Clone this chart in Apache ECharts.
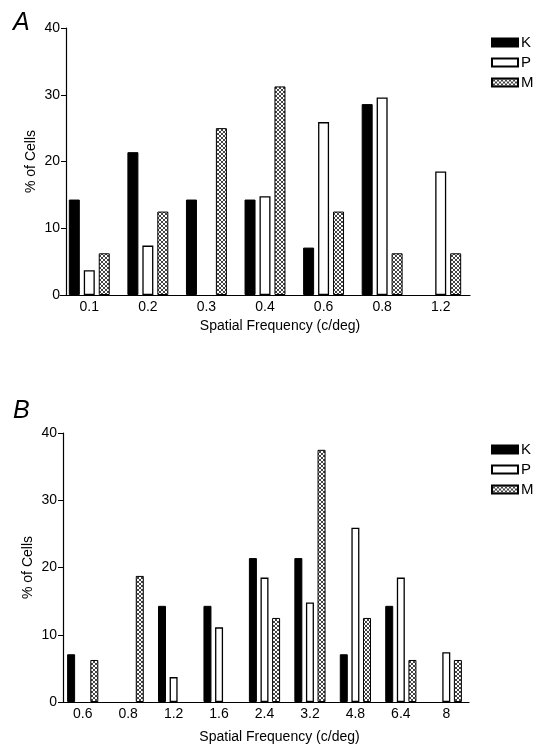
<!DOCTYPE html>
<html><head><meta charset="utf-8">
<script src="https://cdn.jsdelivr.net/npm/echarts@6/dist/echarts.min.js"></script>
<style>html,body{margin:0;padding:0;background:#fff}#c{width:541px;height:756px}</style>
</head><body><div id="c"></div>
<script>
// Panel A
const catsA = ['0.1','0.2','0.3','0.4','0.6','0.8','1.2'];
const kA = [14.3, 21.4, 14.3, 14.3, 7.1, 28.6, 0];
const pA = [3.7, 7.4, 0, 14.8, 25.9, 29.6, 18.5];
const mA = [6.25, 12.5, 25, 31.25, 12.5, 6.25, 6.25];
// Panel B
const catsB = ['0.6','0.8','1.2','1.6','2.4','3.2','4.8','6.4','8'];
const kB = [7.1, 0, 14.3, 14.3, 21.4, 21.4, 7.1, 14.3, 0];
const pB = [0, 0, 3.7, 11.1, 18.5, 14.8, 25.9, 18.5, 7.4];
const mB = [6.25, 18.75, 0, 0, 12.5, 37.5, 12.5, 6.25, 6.25];
const seriesNames = ['K','P','M'];
const yTicks = [0, 10, 20, 30, 40];

const FONT = 'Liberation Sans';
// hatch pattern
const pc = document.createElement('canvas');
pc.width = 4; pc.height = 4;
const g = pc.getContext('2d');
g.fillStyle = '#ffffff'; g.fillRect(0,0,4,4);
g.fillStyle = '#444444';
for (let i=0;i<4;i++){ g.fillRect(i,i,1,1); g.fillRect(3-i,i,1,1); }
const hatch = {image: pc, repeat: 'repeat'};

const styles = [
  {color:'#000000', borderColor:'#000000', borderWidth:1},
  {color:'#ffffff', borderColor:'#000000', borderWidth:1.3},
  {color:hatch, borderColor:'#000000', borderWidth:1}
];

function yAxisFor(gi, offset, gap){
  return {
    type:'value', gridIndex:gi, min:yTicks[0], max:yTicks[yTicks.length-1], interval:10,
    offset: offset,
    name:'% of Cells', nameLocation:'middle', nameGap:gap, nameMoveOverlap:false,
    nameTextStyle:{fontFamily:FONT, fontSize:14, color:'#000'},
    axisLine:{show:true, lineStyle:{color:'#000', width:1.2}},
    axisTick:{show:true, length:5, lineStyle:{color:'#000'}},
    axisLabel:{fontFamily:FONT, fontSize:14, color:'#000', margin:6},
    splitLine:{show:false}
  };
}
function xAxisFor(gi, cats, gap){
  return {
    type:'category', gridIndex:gi, data:cats,
    name:'Spatial Frequency (c/deg)', nameLocation:'middle', nameGap:gap,
    nameTextStyle:{fontFamily:FONT, fontSize:14, color:'#000', padding:[0,0,0,30]},
    axisLine:{show:true, lineStyle:{color:'#000', width:1.2}},
    axisTick:{show:false},
    axisLabel:{fontFamily:FONT, fontSize:14, color:'#000', margin:5, interval:0},
    splitLine:{show:false}
  };
}
function mk(name, data, idx, gi, bw, gap){
  return {
    name:name, type:'bar', xAxisIndex:gi, yAxisIndex:gi,
    data:data.map(v => v === 0 ? null : v),
    barWidth:bw, barGap:gap, itemStyle:styles[idx], silent:true
  };
}
const chart = echarts.init(document.getElementById('c'), null, {renderer:'canvas'});
const legendCommon = {
  orient:'vertical', itemWidth:26, itemHeight:8, itemGap:5, icon:'rect',
  textStyle:{fontFamily:FONT, fontSize:15, color:'#000', padding:[0,0,0,-2]},
  selectedMode:false
};
chart.setOption({
  animation:false,
  backgroundColor:'#fff',
  title:[
    {text:'A', left:8, top:6, textStyle:{fontFamily:FONT, fontSize:25, fontStyle:'italic', fontWeight:'normal', color:'#000'}},
    {text:'B', left:8, top:394, textStyle:{fontFamily:FONT, fontSize:25, fontStyle:'italic', fontWeight:'normal', color:'#000'}}
  ],
  grid:[
    {left:60, width:410, top:28, height:267},
    {left:60, width:409, top:433, height:269}
  ],
  legend:[
    Object.assign({data:seriesNames, left:486, top:30}, legendCommon),
    Object.assign({data:seriesNames.map(n=>n+' '), left:486, top:437}, legendCommon)
  ],
  xAxis:[xAxisFor(0, catsA, 24), xAxisFor(1, catsB, 28)],
  yAxis:[yAxisFor(0, -6, 28), yAxisFor(1, -3, 28)],
  series:[
    mk('K', kA, 0, 0, 11, '36%'),
    mk('P', pA, 1, 0, 11, '36%'),
    mk('M', mA, 2, 0, 11, '36%'),
    mk('K ', kB, 0, 1, 8, '45%'),
    mk('P ', pB, 1, 1, 8, '45%'),
    mk('M ', mB, 2, 1, 8, '45%')
  ]
});
</script></body></html>
